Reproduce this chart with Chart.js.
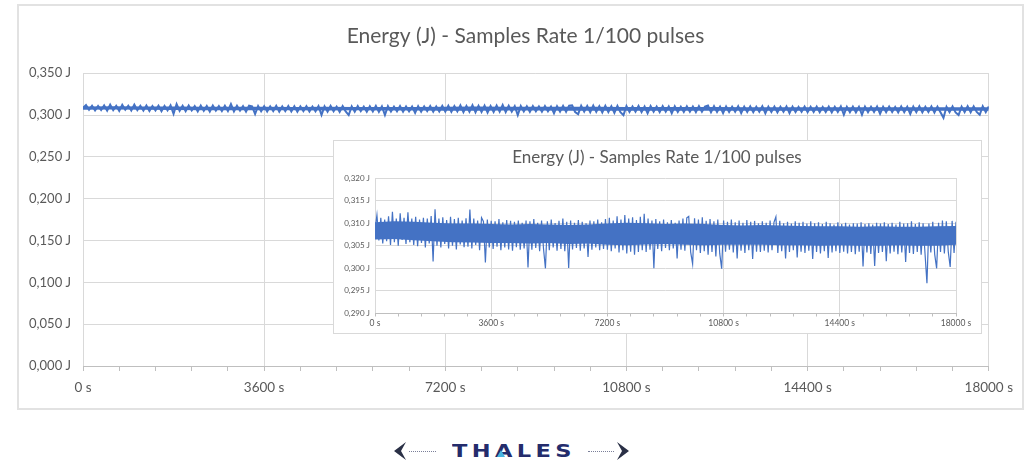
<!DOCTYPE html>
<html>
<head>
<meta charset="utf-8">
<script src="https://cdn.jsdelivr.net/npm/chart.js@4/dist/chart.umd.min.js"></script>
<style>
  body { margin: 0; background: #fff; width: 1025px; height: 464px; position: relative; overflow: hidden; font-family: Lato, sans-serif; }
  #mainBox { position: absolute; left: 17px; top: 4px; width: 1003px; height: 402px; border: 2px solid #e2e2e2; background: #fff; }
  #insetBox { position: absolute; left: 333px; top: 140px; width: 647px; height: 192px; border: 1px solid #d9d9d9; background: #fff; }
  #logo { position: absolute; left: 0; top: 438px; width: 1025px; height: 24px; }
  .chev { position: absolute; top: 4px; }
  .dots { position: absolute; top: 13px; height: 0; border-top: 1px dotted #7a7f99; }
  #thales { position: absolute; left: 452px; top: 2px; font-family: "DejaVu Sans", sans-serif; font-weight: bold; font-size: 18px; letter-spacing: 3.5px; color: #242c6c; transform: scaleX(1.25); transform-origin: left center; }
  #aDot { position: absolute; left: 497px; top: 12px; }
</style>
</head>
<body>
<div id="mainBox"><canvas id="mainChart" width="1003" height="402"></canvas></div>
<div id="insetBox"><canvas id="insetChart" width="647" height="192"></canvas></div>
<div id="logo">
  <svg class="chev" style="left:392px" width="16" height="18"><path d="M14 0 L2 9 L14 18 L9 9 Z" fill="#2a3046"/></svg>
  <div class="dots" style="left:409px; width:27px"></div>
  <div id="thales">THALES</div>
  <svg id="aDot" width="8" height="7"><path d="M4 0 L8 7 L0 7 Z" fill="#47b5e0"/></svg>
  <div class="dots" style="left:588px; width:26px"></div>
  <svg class="chev" style="left:615px" width="16" height="18"><path d="M2 0 L14 9 L2 18 L7 9 Z" fill="#2a3046"/></svg>
</div>
<script>
const chartTitle = 'Energy (J) - Samples Rate 1/100 pulses';
const sampleStep = 60;  // seconds between plotted samples
const coreStep = 600;   // seconds between points of the dense noise core
const xTicksMajor = [0, 3600, 7200, 10800, 14400, 18000];
const mainYTicks = [0, 0.05, 0.10, 0.15, 0.20, 0.25, 0.30, 0.35];
const insetYTicks = [0.290, 0.295, 0.300, 0.305, 0.310, 0.315, 0.320];

// energy readings (J), one every 60 s
const energy = [
  0.3085, 0.3118, 0.3062, 0.3112, 0.3055, 0.3108, 0.3060, 0.3115, 0.3052, 0.3125, 0.3058, 0.3110, 0.3050, 0.3122, 0.3063, 0.3112, 0.3054, 0.3124, 0.3058, 0.3110,
  0.3052, 0.3114, 0.3049, 0.3108, 0.3056, 0.3112, 0.3046, 0.3110, 0.3055, 0.3116, 0.3015, 0.3131, 0.3050, 0.3110, 0.3046, 0.3113, 0.3054, 0.3107, 0.3044, 0.3114,
  0.3050, 0.3109, 0.3042, 0.3112, 0.3053, 0.3106, 0.3047, 0.3111, 0.3048, 0.3130, 0.3044, 0.3110, 0.3052, 0.3106, 0.3040, 0.3112, 0.3104, 0.3013, 0.3108, 0.3046,
  0.3105, 0.3043, 0.3104, 0.3048, 0.3109, 0.3040, 0.3102, 0.3046, 0.3107, 0.3042, 0.3105, 0.3039, 0.3103, 0.3047, 0.3106, 0.3041, 0.3101, 0.3044, 0.3106, 0.3002,
  0.3104, 0.3041, 0.3109, 0.3045, 0.3101, 0.3038, 0.3106, 0.3044, 0.3000, 0.3104, 0.3040, 0.3108, 0.3046, 0.3100, 0.3039, 0.3105, 0.3043, 0.3110, 0.3038, 0.3103,
  0.3001, 0.3106, 0.3042, 0.3101, 0.3045, 0.3107, 0.3039, 0.3103, 0.3044, 0.3100, 0.3025, 0.3106, 0.3041, 0.3104, 0.3046, 0.3108, 0.3040, 0.3102, 0.3043, 0.3109,
  0.3041, 0.3112, 0.3038, 0.3106, 0.3044, 0.3115, 0.3035, 0.3108, 0.3040, 0.3118, 0.3033, 0.3110, 0.3037, 0.3113, 0.3030, 0.3107, 0.3036, 0.3114, 0.3040, 0.3121,
  0.3036, 0.3110, 0.3041, 0.3106, 0.3000, 0.3109, 0.3043, 0.3104, 0.3038, 0.3108, 0.3045, 0.3102, 0.3040, 0.3107, 0.3044, 0.3101, 0.3022, 0.3106, 0.3041, 0.3110,
  0.3039, 0.3112, 0.3115, 0.3036, 0.3010, 0.3111, 0.3040, 0.3108, 0.3034, 0.3113, 0.3038, 0.3105, 0.3030, 0.3109, 0.3036, 0.3104, 0.3026, 0.3108, 0.3033, 0.2999,
  0.3106, 0.3037, 0.3103, 0.3041, 0.3108, 0.3035, 0.3102, 0.3022, 0.3106, 0.3039, 0.3101, 0.3034, 0.3107, 0.3040, 0.3103, 0.3021, 0.3105, 0.3037, 0.3100, 0.3036,
  0.3104, 0.3039, 0.3101, 0.3035, 0.3106, 0.3040, 0.3102, 0.3114, 0.3034, 0.3105, 0.3038, 0.3100, 0.3022, 0.3103, 0.3036, 0.3099, 0.3040, 0.3104, 0.3024, 0.3101,
  0.3037, 0.3103, 0.3034, 0.3099, 0.3039, 0.3104, 0.3021, 0.3100, 0.3036, 0.3102, 0.3033, 0.3098, 0.3038, 0.3103, 0.3023, 0.3100, 0.3035, 0.3097, 0.3038, 0.3102,
  0.3034, 0.3098, 0.3037, 0.3101, 0.3033, 0.3097, 0.3036, 0.3100, 0.3031, 0.3099, 0.3037, 0.3102, 0.3004, 0.3098, 0.3035, 0.3100, 0.3032, 0.3097, 0.3005, 0.3101,
  0.3034, 0.3099, 0.3036, 0.3102, 0.3016, 0.3098, 0.3033, 0.3101, 0.3037, 0.3097, 0.3031, 0.3103, 0.3035, 0.3099, 0.3014, 0.3100, 0.3034, 0.3104, 0.3032, 0.3098,
  0.3036, 0.3102, 0.3030, 0.3100, 0.3033, 0.2967, 0.3099, 0.3035, 0.3103, 0.3031, 0.3000, 0.3101, 0.3036, 0.3106, 0.3033, 0.3104, 0.3037, 0.3003, 0.3105, 0.3034,
  0.3103
];

// solid part of the noise band (J), one value every 600 s
const coreTop = [
  0.3102, 0.3104, 0.3103, 0.3101, 0.3099, 0.3099, 0.3098, 0.3097, 0.3098, 0.3097, 0.3096,
  0.3097, 0.3099, 0.3101, 0.3100, 0.3098, 0.3099, 0.3098, 0.3096, 0.3095, 0.3096,
  0.3095, 0.3094, 0.3093, 0.3093, 0.3092, 0.3093, 0.3092, 0.3092, 0.3093, 0.3094
];
const coreBottom = [
  0.3064, 0.3065, 0.3062, 0.3060, 0.3058, 0.3057, 0.3056, 0.3056, 0.3055, 0.3056, 0.3054,
  0.3055, 0.3052, 0.3051, 0.3053, 0.3054, 0.3052, 0.3051, 0.3052, 0.3052, 0.3052,
  0.3051, 0.3051, 0.3050, 0.3051, 0.3050, 0.3050, 0.3051, 0.3050, 0.3050, 0.3052
];

const blue = '#4472c4';
const textColor = '#595959';
const gridColor = '#d9d9d9';

function toPoints(arr, step) { return arr.map((v, i) => ({ x: i * step, y: v })); }
function fmtJ(v) { return v.toFixed(3).replace('.', ',') + ' J'; }

function buildChart(ctx, opts) {
  return new Chart(ctx, {
    type: 'line',
    data: {
      datasets: [
        { data: toPoints(coreTop, coreStep), borderWidth: 0, borderColor: blue, backgroundColor: blue, pointRadius: 0, fill: '+1' },
        { data: toPoints(coreBottom, coreStep), borderWidth: 0, borderColor: blue, pointRadius: 0, fill: false },
        { data: toPoints(energy, sampleStep), borderColor: blue, borderWidth: opts.lineWidth, pointRadius: 0, tension: 0, fill: false }
      ]
    },
    plugins: [{
      // centre the title on the whole frame, like the original
      id: 'titleShift',
      afterLayout: chart => {
        chart.titleBlock.left += opts.titleShift;
        chart.titleBlock.right += opts.titleShift;
      }
    }],
    options: {
      responsive: false,
      animation: false,
      devicePixelRatio: 1,
      layout: { padding: { left: 0, right: opts.padRight, top: 0, bottom: 0 } },
      plugins: {
        legend: { display: false },
        tooltip: { enabled: false },
        title: {
          display: true,
          text: chartTitle,
          color: textColor,
          font: { family: 'Lato', size: opts.titleSize, weight: 'normal' },
          padding: { top: opts.titleTop, bottom: opts.titleBottom }
        }
      },
      scales: {
        x: {
          type: 'linear',
          min: 0,
          max: 18000,
          afterFit: s => { s.height = opts.xHeight; },
          afterBuildTicks: s => {
            const t = [];
            for (let v = 0; v <= 18000; v += 720) t.push({ value: v });
            s.ticks = t;
          },
          ticks: {
            autoSkip: false,
            maxRotation: 0,
            color: textColor,
            padding: opts.xPad,
            font: { family: 'Lato', size: opts.xFont },
            callback: v => xTicksMajor.includes(v) ? v + ' s' : ''
          },
          grid: {
            color: c => (c.tick && xTicksMajor.includes(c.tick.value)) ? gridColor : 'rgba(0,0,0,0)',
            tickColor: '#bfbfbf',
            tickLength: opts.tickLen
          },
          border: { color: '#bfbfbf', width: 1 }
        },
        y: {
          min: opts.yTicks[0],
          max: opts.yTicks[opts.yTicks.length - 1],
          afterFit: s => { s.width = opts.yWidth; },
          afterBuildTicks: s => { s.ticks = opts.yTicks.map(v => ({ value: v })); },
          ticks: {
            color: textColor,
            padding: opts.yPad,
            font: { family: 'Lato', size: opts.yFont },
            callback: v => fmtJ(v)
          },
          grid: { color: gridColor, drawTicks: false },
          border: { display: false }
        }
      }
    }
  });
}

document.addEventListener('DOMContentLoaded', () => {
  buildChart(document.getElementById('mainChart').getContext('2d'), {
    lineWidth: 2, padRight: 32, titleSize: 21, titleTop: 18, titleBottom: 24, titleShift: 21,
    xHeight: 42, xPad: 9, xFont: 13.5, tickLen: 5,
    yTicks: mainYTicks, yWidth: 64, yPad: 12, yFont: 13
  });
  buildChart(document.getElementById('insetChart').getContext('2d'), {
    lineWidth: 1.2, padRight: 25, titleSize: 17, titleTop: 6, titleBottom: 10.6, titleShift: 12,
    xHeight: 19.5, xPad: 2, xFont: 8.5, tickLen: 3,
    yTicks: insetYTicks, yWidth: 41, yPad: 5, yFont: 8
  });
});
</script>
</body>
</html>
